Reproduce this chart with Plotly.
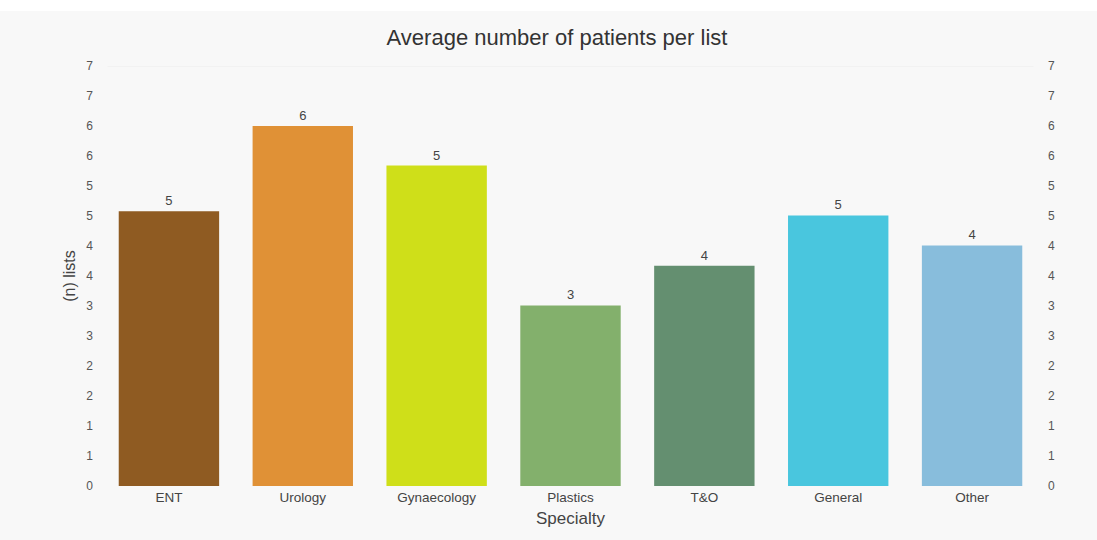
import plotly.graph_objects as go

# Average patients per theatre list, by specialty
specialties = ["ENT", "Urology", "Gynaecology", "Plastics", "T&O", "General", "Other"]
avg_patients = [4.58, 6.0, 5.34, 3.01, 3.67, 4.51, 4.01]
bar_colors = ["#8f5b22", "#e09136", "#cfdf19", "#83b06c", "#648f70", "#49c6de", "#88bddc"]

# Half-unit ticks, labelled as whole numbers
tick_vals = [0, 0.5, 1, 1.5, 2, 2.5, 3, 3.5, 4, 4.5, 5, 5.5, 6, 6.5, 7]
tick_text = ["0", "1", "1", "2", "2", "3", "3", "4", "4", "5", "5", "6", "6", "7", "7"]

font_family = "Liberation Sans, Arial, sans-serif"

fig = go.Figure()
fig.add_trace(go.Bar(
    x=specialties,
    y=avg_patients,
    marker=dict(color=bar_colors, line=dict(width=0)),
    texttemplate="%{y:.0f}",
    textposition="outside",
    textfont=dict(size=13, color="#444444", family=font_family),
    cliponaxis=False,
    showlegend=False,
))
# Invisible companion trace so the mirrored right-hand axis is drawn
fig.add_trace(go.Scatter(
    x=specialties,
    y=avg_patients,
    yaxis="y2",
    mode="markers",
    marker=dict(opacity=0),
    hoverinfo="skip",
    showlegend=False,
))

axis_common = dict(
    range=[0, 7],
    tickmode="array",
    tickvals=tick_vals,
    ticktext=tick_text,
    tickfont=dict(size=12, color="#555555", family=font_family),
    showline=False,
    zeroline=False,
    ticks="",
)

fig.update_layout(
    width=1097,
    height=540,
    margin=dict(l=102, r=58, t=66, b=54),
    paper_bgcolor="#f8f8f8",
    plot_bgcolor="#f8f8f8",
    bargap=0.25,
    title=dict(
        text="Average number of patients per list",
        x=557 / 1097, xref="container", xanchor="center",
        y=1 - 37 / 540, yanchor="middle",
        font=dict(size=22, color="#333333", family=font_family),
    ),
    xaxis=dict(
        showgrid=False,
        showline=False,
        ticks="",
        ticklabelstandoff=1,
        tickfont=dict(size=13.5, color="#444444", family=font_family),
        title=dict(text="Specialty", standoff=8,
                   font=dict(size=17, color="#444444", family=font_family)),
    ),
    yaxis=dict(
        **axis_common,
        showgrid=False,
        ticklabelstandoff=8,
        title=dict(text="(n) lists", standoff=6,
                   font=dict(size=16, color="#444444", family=font_family)),
    ),
    yaxis2=dict(
        **axis_common,
        overlaying="y",
        side="right",
        showgrid=False,
        ticklabelstandoff=8,
    ),
    shapes=[
        # faint top rule at the axis maximum
        dict(type="line", xref="paper", yref="y", x0=0.006, x1=0.994, y0=7, y1=7,
             line=dict(color="#ebebeb", width=1), layer="below"),
        # white strip along the top edge of the page
        dict(type="rect", xref="paper", yref="paper",
             x0=-102 / 937, x1=1 + 58 / 937,
             y0=1 + (66 - 11) / 420, y1=1 + 66 / 420,
             fillcolor="#ffffff", line=dict(width=0), layer="below"),
    ],
)

fig.write_html("out.html")
